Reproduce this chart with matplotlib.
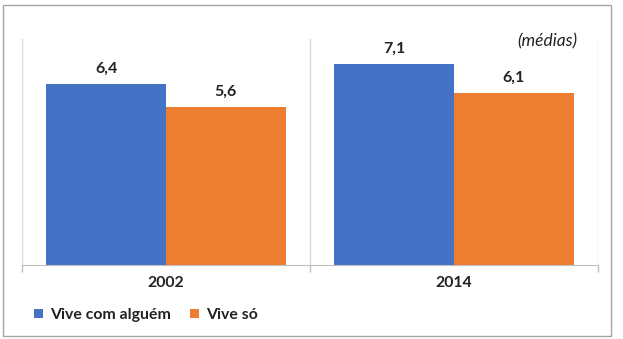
import numpy as np
import matplotlib.pyplot as plt
from matplotlib.patches import Rectangle

plt.rcParams["font.family"] = ["Lato", "DejaVu Sans"]

anos = ["2002", "2014"]
vive_com_alguem = [6.4, 7.1]
vive_so = [5.6, 6.1]
series_nomes = ["Vive com alguém", "Vive só"]

azul = "#4472C4"
laranja = "#ED7D31"
cinza = "#BFBFBF"

fig = plt.figure(figsize=(6.23, 3.39), dpi=100)
ax = fig.add_axes([22 / 623, 1 - 265 / 339, (598 - 22) / 623, (265 - 39) / 339])

x = np.arange(len(anos)) + 0.5
w = 0.415
b1 = ax.bar(x - w / 2, vive_com_alguem, w, color=azul, label=series_nomes[0])
b2 = ax.bar(x + w / 2, vive_so, w, color=laranja, label=series_nomes[1])

for bars in (b1, b2):
    for r in bars:
        v = r.get_height()
        ax.annotate(f"{v:.1f}".replace(".", ","),
                    (r.get_x() + r.get_width() / 2, v),
                    xytext=(0, 6), textcoords="offset points",
                    ha="center", va="bottom", fontsize=11.5, fontweight="bold",
                    color="#222222")

ax.set_xlim(0, len(anos))
ax.set_ylim(0, 8)
ax.set_yticks([])
ax.set_xticks(x)
ax.set_xticklabels(anos, fontsize=11.3, fontweight="bold", color="#222222")
ax.set_xticks(np.arange(len(anos) + 1), minor=True)
ax.tick_params(axis="x", which="major", length=0, pad=8)
ax.tick_params(axis="x", which="minor", length=5, color=cinza, width=1)
ax.grid(axis="x", which="minor", color="#D9D9D9", lw=1)
ax.set_axisbelow(True)

for s in ("top", "left", "right"):
    ax.spines[s].set_visible(False)
ax.spines["bottom"].set_color(cinza)

ax.text(577 / 623, 1 - 41 / 339, "(médias)", transform=fig.transFigure,
        ha="right", va="center", fontsize=12.5, style="italic", color="#222222")

leg = fig.legend(handles=[b1, b2], loc="center left",
                 bbox_to_anchor=(28 / 623, 1 - 315 / 339), ncol=2,
                 frameon=False, fontsize=11.4, handlelength=0.55, handleheight=0.5,
                 handletextpad=0.45, columnspacing=1.2, borderaxespad=0)
for t in leg.get_texts():
    t.set_fontweight("bold")
    t.set_color("#222222")

fig.patches.append(Rectangle((3 / 623, 1 - 336 / 339), 608 / 623, 331 / 339,
                             transform=fig.transFigure, fill=False,
                             edgecolor="#A6A6A6", lw=1))

fig.savefig("out.png", dpi=100)
